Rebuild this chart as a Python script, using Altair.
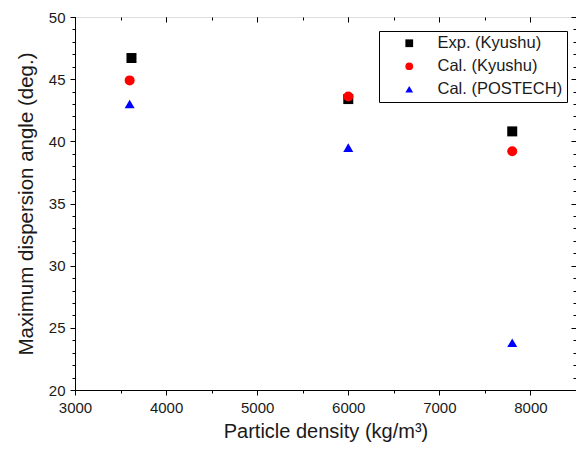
import altair as alt
import pandas as pd

series = ["Exp. (Kyushu)", "Cal. (Kyushu)", "Cal. (POSTECH)"]
density_exp = [3620, 6000, 7800]
angle_exp = [46.7, 43.4, 40.8]
density_cal_k = [3600, 6000, 7800]
angle_cal_k = [44.9, 43.6, 39.2]
density_cal_p = [3600, 6000, 7800]
angle_cal_p = [43.0, 39.5, 23.8]

x_major = [3000, 4000, 5000, 6000, 7000, 8000]
x_minor = [3000, 3500, 4000, 4500, 5000, 5500, 6000, 6500, 7000, 7500, 8000, 8500]
y_major = [20, 25, 30, 35, 40, 45, 50]
y_minor = list(range(20, 51))

rows = []
for name, xs, ys in [(series[0], density_exp, angle_exp),
                     (series[1], density_cal_k, angle_cal_k),
                     (series[2], density_cal_p, angle_cal_p)]:
    for xv, yv in zip(xs, ys):
        rows.append({"series": name, "density": xv, "angle": yv})
df = pd.DataFrame(rows)

FONT = "Liberation Sans"
TXT = "#1a1a1a"
xscale = alt.Scale(domain=[3000, 8500], nice=False, zero=False)
yscale = alt.Scale(domain=[20, 50], nice=False, zero=False)

base = alt.Chart(df)

main = base.mark_point(filled=True, opacity=1).encode(
    x=alt.X("density:Q", scale=xscale,
            axis=alt.Axis(orient="bottom", values=x_major, tickSize=5, grid=False, format="d",
                          title="Particle density (kg/m³)", labelFontSize=15,
                          titleFontSize=20, titleFontWeight="normal", labelPadding=5,
                          titlePadding=6, domainColor="#000", tickColor="#000",
                          labelColor=TXT, titleColor=TXT, labelFlush=False)),
    y=alt.Y("angle:Q", scale=yscale,
            axis=alt.Axis(orient="left", values=y_major, tickSize=5, grid=False, format="d",
                          title="Maximum dispersion angle (deg.)", labelFontSize=15,
                          titleFontSize=20.5, titleFontWeight="normal", labelPadding=5,
                          titlePadding=12, domainColor="#000", tickColor="#000",
                          labelColor=TXT, titleColor=TXT, labelFlush=False)),
    color=alt.Color("series:N",
                    scale=alt.Scale(domain=series, range=["#000000", "#ff0000", "#0000ff"]),
                    legend=alt.Legend(title=None, orient="none", legendX=304, legendY=14,
                                      strokeColor="#000", fillColor="white", padding=4,
                                      labelFontSize=16.5, symbolSize=60, rowPadding=6,
                                      labelColor=TXT, symbolOffset=18, labelOffset=20,
                                      labelExpr="datum.label + '\u00a0\u00a0'",
                                      offset=0)),
    shape=alt.Shape("series:N",
                    scale=alt.Scale(domain=series, range=["square", "circle", "triangle-up"]),
                    legend=alt.Legend(title=None, orient="none", legendX=304, legendY=14)),
    size=alt.value(100),
)

def ghost(xaxis, yaxis):
    return base.mark_point(opacity=0).encode(
        x=alt.X("density:Q", scale=xscale, axis=xaxis),
        y=alt.Y("angle:Q", scale=yscale, axis=yaxis),
    )

common = dict(labels=False, domain=False, grid=False, title=None, tickColor="#000")
minor_bl = ghost(alt.Axis(orient="bottom", values=x_minor, tickSize=3, **common),
                 alt.Axis(orient="left", values=y_minor, tickSize=3, **common))
major_tr = ghost(alt.Axis(orient="top", values=x_major, tickSize=5, offset=-5, **common),
                 alt.Axis(orient="right", values=y_major, tickSize=5, offset=-5, **common))
minor_tr = ghost(alt.Axis(orient="top", values=x_minor, tickSize=3, offset=-3, **common),
                 alt.Axis(orient="right", values=y_minor, tickSize=3, offset=-3, **common))

chart = alt.layer(main, minor_bl, major_tr, minor_tr).resolve_axis(
    x="independent", y="independent"
).properties(
    width=501, height=373,
    autosize=alt.AutoSizeParams(type="none"),
    padding={"left": 67, "top": 9, "right": 0, "bottom": 52},
).configure_view(stroke="#000", strokeWidth=1.5).configure(font=FONT)

chart.save("out.html", embed_options={"renderer": "svg", "actions": False})
